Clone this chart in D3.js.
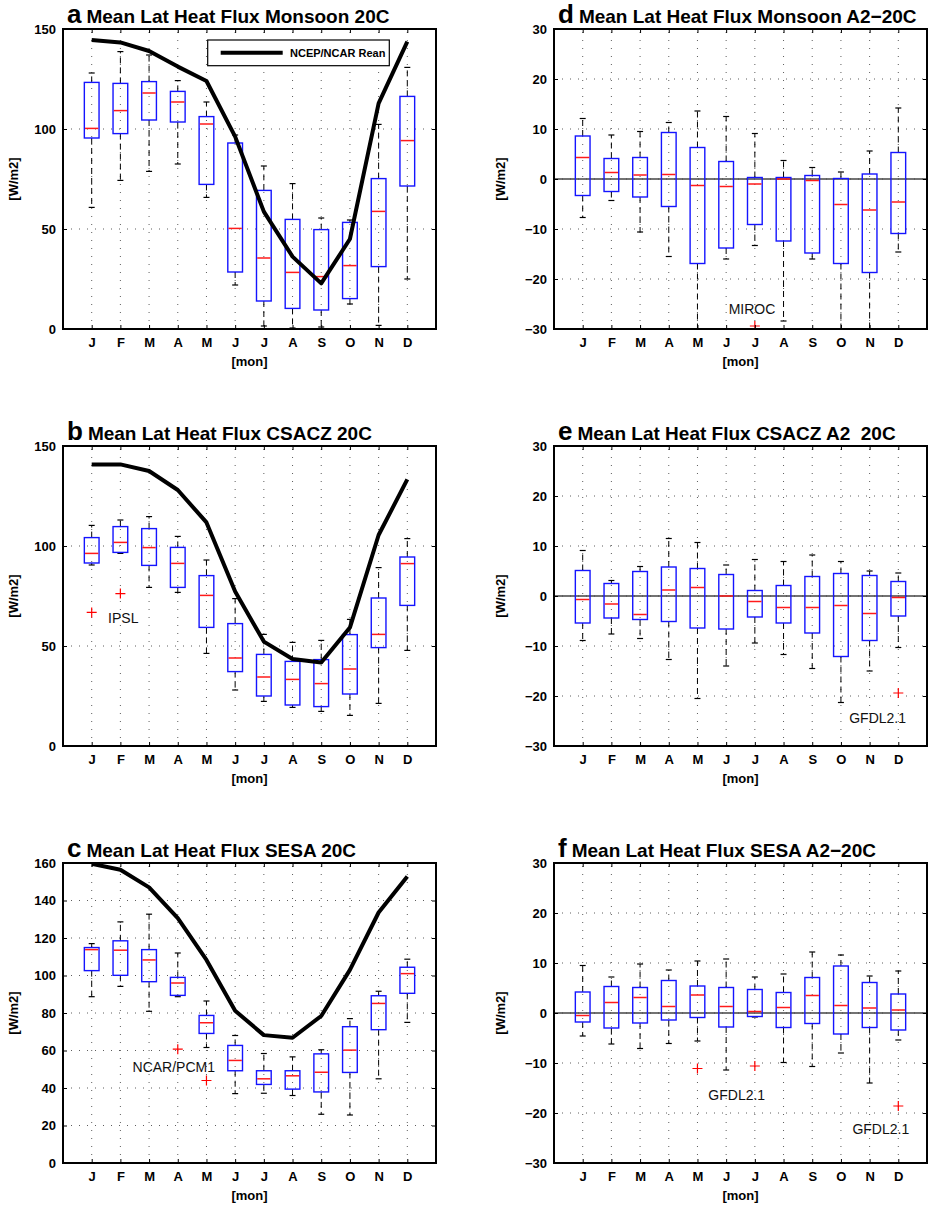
<!DOCTYPE html>
<html>
  <head>
    <title>Mean Lat Heat Flux</title>
    <script src="https://cdn.jsdelivr.net/npm/d3@7"></script>
    <style>
      body { margin: 0; background: #fff; }
      text { font-family: "Liberation Sans", Arial, sans-serif; }
    </style>
  </head>
  <body>
    <svg width="929" height="1209" id="mainsvg"></svg>
    <script>
      const months = ["J", "F", "M", "A", "M", "J", "J", "A", "S", "O", "N", "D"];

      // a: Monsoon 20C
      const aHi = [128, 138.7, 137, 124.2, 113.5, 97, 81.5, 72.7, 55.5, 54.5, 102.3, 130.8];
      const aQ3 = [123.3, 122.8, 123.7, 118.8, 106.2, 93, 69.3, 54.8, 49.7, 53.3, 75.2, 116.3];
      const aMed = [100.3, 109.2, 118, 113.5, 102.5, 50.3, 35.5, 28.3, 26.2, 31.7, 58.8, 94.2];
      const aQ1 = [95.5, 97.7, 104.5, 103.5, 72.3, 28.5, 14, 10.3, 9.5, 15.2, 31.2, 71.5];
      const aLo = [60.8, 74.3, 78.8, 82.5, 65.8, 22, 1.5, 0.5, 1, 12.5, 1.8, 25];
      const aRean = [144.5, 143.3, 139, 131.2, 124, 96.2, 58.7, 36.2, 22.8, 45, 112.8, 143.7];

      // b: CSACZ 20C
      const bHi = [110.3, 113, 114.7, 104.8, 93, 73.7, 55.8, 51.8, 52.8, 63.3, 89.2, 103.7];
      const bQ3 = [104.2, 109.7, 108.7, 99.3, 85.2, 61.2, 45.8, 42.3, 43.2, 55.7, 74, 94.5];
      const bMed = [96.3, 101.8, 99.2, 91.3, 75.3, 44, 34.5, 33.3, 31.2, 38.5, 55.8, 91.2];
      const bQ1 = [91.5, 96.8, 90.3, 79.3, 59.3, 37.2, 25, 20.5, 19.7, 26, 49.2, 70.3];
      const bLo = [90.5, 96.3, 79.3, 76.8, 46.3, 28, 22.3, 19.3, 17.3, 15.3, 21.3, 47.8];
      const bRean = [140.8, 140.8, 137.5, 128, 111.8, 77.2, 52.2, 43.5, 41.7, 59.2, 105.5, 133.3];
      const bOutMonth = [1, 2];
      const bOutValue = [66.8, 76.2];

      // c: SESA 20C
      const cHi = [117, 128.6, 132.7, 112, 86.4, 68, 58.4, 56.6, 60.4, 77, 91.6, 108.7];
      const cQ3 = [114.9, 118.5, 113.8, 99, 78.7, 62.7, 49.2, 49.2, 58.2, 72.7, 89.2, 104.4];
      const cMed = [113.8, 113.5, 108.3, 96, 74.8, 54.7, 44.9, 46.5, 48.4, 60.2, 85.1, 101];
      const cQ1 = [102.6, 100.1, 96.7, 89.4, 69.1, 49.2, 41.9, 39.4, 37.9, 48.3, 71.1, 90.5];
      const cLo = [88.7, 94.2, 80.9, 88.7, 61.6, 37, 37.2, 36, 26, 25.6, 44.9, 75];
      const cRean = [159.6, 156.4, 147, 130.6, 108.3, 81.2, 68.2, 66.8, 78.4, 103, 133.6, 152.8];
      const cOutMonth = [4, 5];
      const cOutValue = [60.7, 44];

      // d: Monsoon A2-20C
      const dHi = [12.1, 8.8, 9.5, 11.3, 13.6, 12.5, 9.1, 3.7, 2.3, 1.4, 5.6, 14.2];
      const dQ3 = [8.6, 4.1, 4.3, 9.3, 6.3, 3.5, 0.3, 0.3, 0.7, 0.1, 1, 5.3];
      const dMed = [4.3, 1.3, 0.8, 0.9, -1.3, -1.5, -1, 0, -0.3, -5.1, -6.2, -4.6];
      const dQ1 = [-3.3, -2.5, -3.6, -5.5, -16.9, -13.8, -9.1, -12.4, -14.8, -16.9, -18.7, -10.9];
      const dLo = [-7.7, -4.3, -10.6, -15.5, -31, -16, -13.3, -28.4, -16, -31, -31, -14.6];
      const dOutMonth = [7];
      const dOutValue = [-29.4];

      // e: CSACZ A2 20C
      const eHi = [9.1, 3.1, 5.9, 11.5, 10.7, 6.2, 7.3, 6.9, 8.2, 6.9, 5, 4.6];
      const eQ3 = [5.1, 2.5, 4.9, 5.8, 5.5, 4.3, 1.1, 2.1, 3.9, 4.5, 4.1, 2.9];
      const eMed = [-0.7, -1.6, -3.7, 1.2, 1.7, 0, -1.1, -2.3, -2.3, -1.9, -3.5, -0.3];
      const eQ1 = [-5.4, -4.4, -4.7, -5.1, -6.4, -6.6, -4.2, -5.4, -7.4, -12.1, -8.9, -4];
      const eLo = [-8.9, -7.6, -8.5, -12.7, -20.5, -14, -9.4, -11.7, -14.5, -21.3, -15, -10.3];
      const eOutMonth = [12];
      const eOutValue = [-19.4];

      // f: SESA A2-20C
      const fHi = [9.5, 7.2, 9.8, 8.6, 10.4, 10.8, 7.2, 7.8, 12.2, 11.6, 7.4, 8.4];
      const fQ3 = [4.2, 5.3, 5.1, 6.5, 5.4, 5.1, 4.7, 4.1, 7.1, 9.4, 6.1, 3.8];
      const fMed = [-0.5, 2.1, 3.1, 1.3, 3.6, 1.3, 0.3, 1.1, 3.5, 1.5, 1, 0.6];
      const fQ1 = [-1.8, -3, -2, -1.4, -0.9, -2.8, -0.7, -2.9, -2.1, -4.2, -2.9, -3.4];
      const fLo = [-4.6, -6.2, -7.1, -6.1, -5.6, -11.4, -0.8, -9.9, -10.7, -8, -14, -5.4];
      const fOutMonth = [5, 7, 12];
      const fOutValue = [-11.1, -10.6, -18.6];

      const flux150Ticks = [0, 50, 100, 150];
      const flux160Ticks = [0, 20, 40, 60, 80, 100, 120, 140, 160];
      const diffTicks = [-30, -20, -10, 0, 10, 20, 30];

      const svg = d3.select("#mainsvg");
      const pw = 373, ph = 300;
      const fontMain = "'Liberation Sans', Arial, sans-serif";

      const panels = [
        { id: "a", x0: 63, y0: 29, letter: "a", title: "Mean Lat Heat Flux Monsoon 20C", dom: [0, 150], ticks: flux150Ticks,
          hi: aHi, q3: aQ3, med: aMed, q1: aQ1, lo: aLo, rean: aRean, outM: [], outV: [], legend: true, labels: [] },
        { id: "b", x0: 63, y0: 446, letter: "b", title: "Mean Lat Heat Flux CSACZ 20C", dom: [0, 150], ticks: flux150Ticks,
          hi: bHi, q3: bQ3, med: bMed, q1: bQ1, lo: bLo, rean: bRean, outM: bOutMonth, outV: bOutValue,
          labels: [{ text: "IPSL", m: 2.1, v: 61.3 }] },
        { id: "c", x0: 63, y0: 863, letter: "c", title: "Mean Lat Heat Flux SESA 20C", dom: [0, 160], ticks: flux160Ticks,
          hi: cHi, q3: cQ3, med: cMed, q1: cQ1, lo: cLo, rean: cRean, outM: cOutMonth, outV: cOutValue,
          labels: [{ text: "NCAR/PCM1", m: 3.86, v: 48.3 }] },
        { id: "d", x0: 554, y0: 29, letter: "d", title: "Mean Lat Heat Flux Monsoon A2\u221220C", dom: [-30, 30], ticks: diffTicks,
          hi: dHi, q3: dQ3, med: dMed, q1: dQ1, lo: dLo, rean: null, outM: dOutMonth, outV: dOutValue, zero: true,
          labels: [{ text: "MIROC", m: 6.9, v: -27 }] },
        { id: "e", x0: 554, y0: 446, letter: "e", title: "Mean Lat Heat Flux CSACZ A2\u00a0\u00a020C", dom: [-30, 30], ticks: diffTicks,
          hi: eHi, q3: eQ3, med: eMed, q1: eQ1, lo: eLo, rean: null, outM: eOutMonth, outV: eOutValue, zero: true,
          labels: [{ text: "GFDL2.1", m: 11.28, v: -25.3 }] },
        { id: "f", x0: 554, y0: 863, letter: "f", title: "Mean Lat Heat Flux SESA A2\u221220C", dom: [-30, 30], ticks: diffTicks,
          hi: fHi, q3: fQ3, med: fMed, q1: fQ1, lo: fLo, rean: null, outM: fOutMonth, outV: fOutValue, zero: true,
          labels: [{ text: "GFDL2.1", m: 6.37, v: -17.3 }, { text: "GFDL2.1", m: 11.39, v: -24.2 }] }
      ];

      panels.forEach(drawPanel);

      function drawPanel(p) {
        const x = d3.scaleLinear().domain([0, 13]).range([p.x0, p.x0 + pw]);
        const y = d3.scaleLinear().domain(p.dom).range([p.y0 + ph, p.y0]);
        const g = svg.append("g").attr("id", "panel-" + p.id);
        const idx = d3.range(12);
        const boxW = 14.7, capW = 6;

        g.append("clipPath").attr("id", "clip-" + p.id)
          .append("rect").attr("x", p.x0).attr("y", p.y0).attr("width", pw).attr("height", ph);

        // 网格 (dotted)
        const grid = g.append("g").attr("stroke", "#333").attr("stroke-width", 0.8).attr("stroke-dasharray", "1,7");
        grid.selectAll(".vg").data(idx).join("line")
          .attr("x1", (i) => x(i + 1)).attr("x2", (i) => x(i + 1))
          .attr("y1", p.y0 + ph).attr("y2", p.y0);
        grid.selectAll(".hg").data(p.ticks.slice(1, -1)).join("line")
          .attr("x1", p.x0).attr("x2", p.x0 + pw)
          .attr("y1", (d) => y(d)).attr("y2", (d) => y(d));

        if (p.zero) {
          g.append("line").attr("x1", p.x0).attr("x2", p.x0 + pw)
            .attr("y1", y(0)).attr("y2", y(0))
            .attr("stroke", "#444").attr("stroke-width", 1.5);
        }

        const body = g.append("g").attr("clip-path", `url(#clip-${p.id})`);

        // whiskers
        body.selectAll(".wUp").data(idx).join("line")
          .attr("x1", (i) => x(i + 1)).attr("x2", (i) => x(i + 1))
          .attr("y1", (i) => y(p.q3[i])).attr("y2", (i) => y(p.hi[i]))
          .attr("stroke", "#000").attr("stroke-width", 1).attr("stroke-dasharray", "6,4");
        body.selectAll(".wDn").data(idx).join("line")
          .attr("x1", (i) => x(i + 1)).attr("x2", (i) => x(i + 1))
          .attr("y1", (i) => y(p.q1[i])).attr("y2", (i) => y(p.lo[i]))
          .attr("stroke", "#000").attr("stroke-width", 1).attr("stroke-dasharray", "6,4");
        body.selectAll(".capUp").data(idx).join("line")
          .attr("x1", (i) => x(i + 1) - capW / 2).attr("x2", (i) => x(i + 1) + capW / 2)
          .attr("y1", (i) => y(p.hi[i])).attr("y2", (i) => y(p.hi[i]))
          .attr("stroke", "#000").attr("stroke-width", 1.2);
        body.selectAll(".capDn").data(idx).join("line")
          .attr("x1", (i) => x(i + 1) - capW / 2).attr("x2", (i) => x(i + 1) + capW / 2)
          .attr("y1", (i) => y(p.lo[i])).attr("y2", (i) => y(p.lo[i]))
          .attr("stroke", "#000").attr("stroke-width", 1.2);

        // boxes
        body.selectAll(".box").data(idx).join("rect")
          .attr("x", (i) => x(i + 1) - boxW / 2).attr("width", boxW)
          .attr("y", (i) => y(p.q3[i])).attr("height", (i) => y(p.q1[i]) - y(p.q3[i]))
          .attr("fill", "none").attr("stroke", "#1414ff").attr("stroke-width", 1.4);
        body.selectAll(".med").data(idx).join("line")
          .attr("x1", (i) => x(i + 1) - boxW / 2 + 0.7).attr("x2", (i) => x(i + 1) + boxW / 2 - 0.7)
          .attr("y1", (i) => y(p.med[i])).attr("y2", (i) => y(p.med[i]))
          .attr("stroke", "#ff1a1a").attr("stroke-width", 1.5);

        // outliers
        body.selectAll(".out").data(p.outM.map((m, k) => ({ m, v: p.outV[k] }))).join("path")
          .attr("d", (d) => `M${x(d.m) - 5},${y(d.v)}h10M${x(d.m)},${y(d.v) - 5}v10`)
          .attr("stroke", "#ff0000").attr("stroke-width", 1.2).attr("fill", "none");

        // reanalysis line
        if (p.rean) {
          const line = d3.line().x((d, i) => x(i + 1)).y((d) => y(d));
          body.append("path").datum(p.rean)
            .attr("d", line).attr("fill", "none")
            .attr("stroke", "#000").attr("stroke-width", 4).attr("stroke-linejoin", "round");
        }

        // annotations
        g.selectAll(".lab").data(p.labels).join("text")
          .attr("x", (d) => x(d.m)).attr("y", (d) => y(d.v))
          .attr("text-anchor", "middle").attr("font-size", "14px").attr("fill", "#111")
          .text((d) => d.text);

        // legend
        if (p.legend) {
          const lg = g.append("g");
          lg.append("rect").attr("x", 207.7).attr("y", 40).attr("width", 181.6).attr("height", 25.7)
            .attr("fill", "#fff").attr("stroke", "#000").attr("stroke-width", 1.2);
          lg.append("line").attr("x1", 220.7).attr("x2", 282.7).attr("y1", 52.7).attr("y2", 52.7)
            .attr("stroke", "#000").attr("stroke-width", 4);
          lg.append("text").attr("x", 290).attr("y", 56.8)
            .attr("font-size", "11px").attr("font-weight", "bold").text("NCEP/NCAR Rean");
        }

        // axes & ticks (inward)
        const axB = g.append("g").attr("transform", `translate(0,${p.y0 + ph})`)
          .call(d3.axisBottom(x).tickValues(d3.range(1, 13)).tickSize(-4).tickPadding(9).tickFormat((d) => months[d - 1]));
        const axT = g.append("g").attr("transform", `translate(0,${p.y0})`)
          .call(d3.axisTop(x).tickValues(d3.range(1, 13)).tickSize(-4).tickFormat(""));
        const axL = g.append("g").attr("transform", `translate(${p.x0},0)`)
          .call(d3.axisLeft(y).tickValues(p.ticks).tickSize(-4).tickPadding(7).tickFormat(d3.format("d")));
        const axR = g.append("g").attr("transform", `translate(${p.x0 + pw},0)`)
          .call(d3.axisRight(y).tickValues(p.ticks).tickSize(-4).tickFormat(""));
        [axB, axT, axL, axR].forEach((a) => {
          a.select(".domain").remove();
          a.selectAll(".tick line").attr("stroke", "#000").attr("stroke-width", 1);
          a.selectAll("text").attr("font-family", fontMain).attr("font-size", "13px")
            .attr("font-weight", "bold").attr("fill", "#000");
        });
        g.append("rect").attr("x", p.x0).attr("y", p.y0).attr("width", pw).attr("height", ph)
          .attr("fill", "none").attr("stroke", "#000").attr("stroke-width", 2);

        // axis labels
        g.append("text").attr("x", p.x0 + pw / 2).attr("y", p.y0 + ph + 37)
          .attr("text-anchor", "middle").attr("font-size", "13px").attr("font-weight", "bold").text("[mon]");
        const ylx = p.x0 - (p.zero ? 49 : 45);
        g.append("text").attr("transform", `translate(${ylx},${p.y0 + ph / 2}) rotate(-90)`)
          .attr("text-anchor", "middle").attr("font-size", "13px").attr("font-weight", "bold").text("[W/m2]");

        // title
        const t = g.append("text").attr("x", p.x0 + 4).attr("y", p.y0 - 6).attr("font-weight", "bold");
        t.append("tspan").attr("font-size", "26px").text(p.letter);
        t.append("tspan").attr("font-size", "19px").attr("dx", 5).text(p.title);
      }
    </script>
  </body>
</html>
